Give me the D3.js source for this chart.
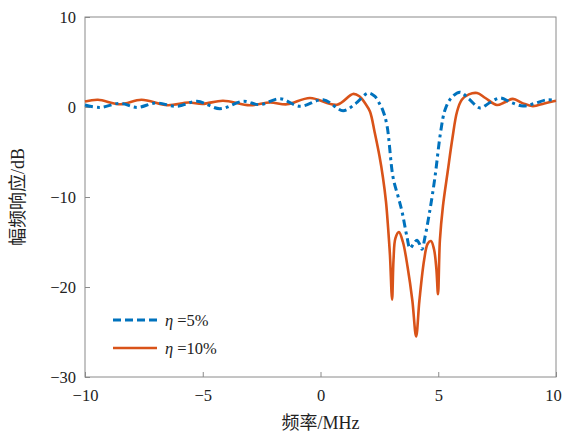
<!DOCTYPE html>
<html>
<head>
<meta charset="utf-8">
<script src="https://cdn.jsdelivr.net/npm/d3@7"></script>
<style>
  html, body { margin: 0; padding: 0; background: #fff; }
</style>
</head>
<body>
<svg id="chart" width="563" height="433"></svg>
<script>
// Frequency (MHz) and magnitude (dB) samples for each notch filter
const freq5 = [-10, -9.36, -8.51, -7.79, -7.0, -6.09, -5.24, -4.27, -3.29, -2.57, -1.72, -0.87, 0.11, 0.96, 1.5, 2.02, 2.3, 2.5, 2.65, 2.82, 3.08, 3.3, 3.46, 3.67, 3.80, 3.95, 4.10, 4.2, 4.31, 4.44, 4.65, 4.86, 5.1, 5.29, 5.55, 5.92, 6.3, 6.77, 7.2, 7.62, 8.1, 8.6, 9.1, 9.62, 10];
const gain5 = [0.22, -0.05, 0.41, -0.05, 0.45, 0.08, 0.63, -0.19, 0.63, 0.26, 0.92, 0.08, 0.81, -0.41, 0.4, 1.55, 1.2, 0.4, -0.4, -2.0, -7.8, -10.0, -11.6, -14.4, -15.7, -15.2, -14.8, -15.2, -15.8, -14.4, -11.4, -7.8, -2.8, -0.3, 1.0, 1.65, 0.9, -0.1, 0.5, 1.0, 0.5, 0.1, 0.4, 0.8, 0.7];

const freq10 = [-10, -9.45, -8.5, -7.6, -6.5, -5.6, -5.0, -4.14, -3.0, -2.14, -1.42, -0.45, 0.70, 1.38, 1.65, 1.9, 2.1, 2.3, 2.5, 2.65, 2.78, 2.87, 2.95, 3.04, 3.1, 3.18, 3.33, 3.5, 3.7, 3.9, 4.06, 4.2, 4.4, 4.55, 4.69, 4.82, 4.92, 4.99, 5.07, 5.2, 5.4, 5.6, 5.8, 6.0, 6.3, 6.65, 7.0, 7.49, 7.8, 8.17, 8.6, 9.02, 9.5, 10];
const gain10 = [0.6, 0.8, 0.3, 0.8, 0.2, 0.5, 0.35, 0.7, 0.19, 0.5, 0.3, 1.0, 0.25, 1.45, 1.2, 0.4, -0.5, -2.8, -5.4, -7.8, -10.5, -13.4, -16.5, -21.4, -17.0, -14.6, -13.9, -15.0, -17.8, -21.5, -25.5, -21.5, -17.0, -15.2, -14.9, -15.8, -18.0, -20.8, -14.8, -11.0, -7.2, -3.5, -0.5, 0.8, 1.4, 1.55, 1.0, 0.22, 0.5, 0.9, 0.4, 0.1, 0.4, 0.7];

const xTicks = [-10, -5, 0, 5, 10];
const yTicks = [-30, -20, -10, 0, 10];
const seriesSymbol = "η";
const seriesLabels = [" =5%", " =10%"];
const seriesColors = ["#0072BD", "#D95319"];

const serif = "'Liberation Serif', 'Times New Roman', 'DejaVu Serif', serif";
const cjk = "'Noto Sans CJK SC', sans-serif";

const svg = d3.select("#chart");
const m = { left: 85, right: 556, top: 17, bottom: 377 };

const x = d3.scaleLinear().domain([-10, 10]).range([m.left, m.right]);
const y = d3.scaleLinear().domain([-30, 10]).range([m.bottom, m.top]);

const fmt = d => (d < 0 ? "\u2212" + Math.abs(d) : String(d));
const axisColor = "#8a8a8a";

// Axes with inward ticks
const xAxis = svg.append("g").attr("transform", `translate(0,${m.bottom})`)
  .call(d3.axisBottom(x).tickValues(xTicks).tickSize(-5).tickPadding(12).tickFormat(fmt));
const yAxis = svg.append("g").attr("transform", `translate(${m.left},0)`)
  .call(d3.axisLeft(y).tickValues(yTicks).tickSize(-5).tickPadding(9).tickFormat(fmt));
[xAxis, yAxis].forEach(g => {
  g.attr("font-family", null).attr("font-size", null);
  g.select(".domain").remove();
  g.selectAll(".tick line").attr("stroke", axisColor);
  g.selectAll(".tick text").attr("fill", "#222")
    .attr("font-family", serif).attr("font-size", "16.5px");
});
// keep the last x label inside the canvas
xAxis.selectAll(".tick text").filter(d => d === 10).attr("dx", "-3");

// Frame box
svg.append("rect")
  .attr("x", m.left).attr("y", m.top)
  .attr("width", m.right - m.left).attr("height", m.bottom - m.top)
  .attr("fill", "none").attr("stroke", axisColor).attr("stroke-width", 1);

// Curves
const line = d3.line().x(d => x(d[0])).y(d => y(d[1])).curve(d3.curveCatmullRom.alpha(0.5));
const data5 = freq5.map((f, i) => [f, gain5[i]]);
const data10 = freq10.map((f, i) => [f, gain10[i]]);

svg.append("path").datum(data10).attr("d", line)
  .attr("fill", "none").attr("stroke", seriesColors[1]).attr("stroke-width", 2.6)
  .attr("stroke-linejoin", "round");
svg.append("path").datum(data5).attr("d", line)
  .attr("fill", "none").attr("stroke", seriesColors[0]).attr("stroke-width", 3)
  .attr("stroke-dasharray", "8,4,3,4");

// Legend
const legend = svg.append("g");
seriesLabels.forEach((label, i) => {
  const ly = 320 + i * 28;
  legend.append("line").attr("x1", 113).attr("x2", 157).attr("y1", ly).attr("y2", ly)
    .attr("stroke", seriesColors[i]).attr("stroke-width", i === 0 ? 3 : 2.6)
    .attr("stroke-dasharray", i === 0 ? "8,4" : null);
  const t = legend.append("text").attr("x", 165).attr("y", ly + 6)
    .attr("font-family", serif).attr("font-size", "16.5px").attr("fill", "#222");
  t.append("tspan").attr("font-style", "italic").text(seriesSymbol);
  t.append("tspan").text(label);
});

// Axis titles
const xt = svg.append("text").attr("x", (m.left + m.right) / 2).attr("y", 429)
  .attr("text-anchor", "middle").attr("font-size", "18px").attr("fill", "#222");
xt.append("tspan").attr("font-family", cjk).text("频率");
xt.append("tspan").attr("font-family", serif).text("/MHz");

const yt = svg.append("text")
  .attr("transform", `translate(24,${(m.top + m.bottom) / 2}) rotate(-90)`)
  .attr("text-anchor", "middle").attr("font-size", "18px").attr("fill", "#222");
yt.append("tspan").attr("font-family", cjk).text("幅频响应");
yt.append("tspan").attr("font-family", serif).text("/dB");
</script>
</body>
</html>
